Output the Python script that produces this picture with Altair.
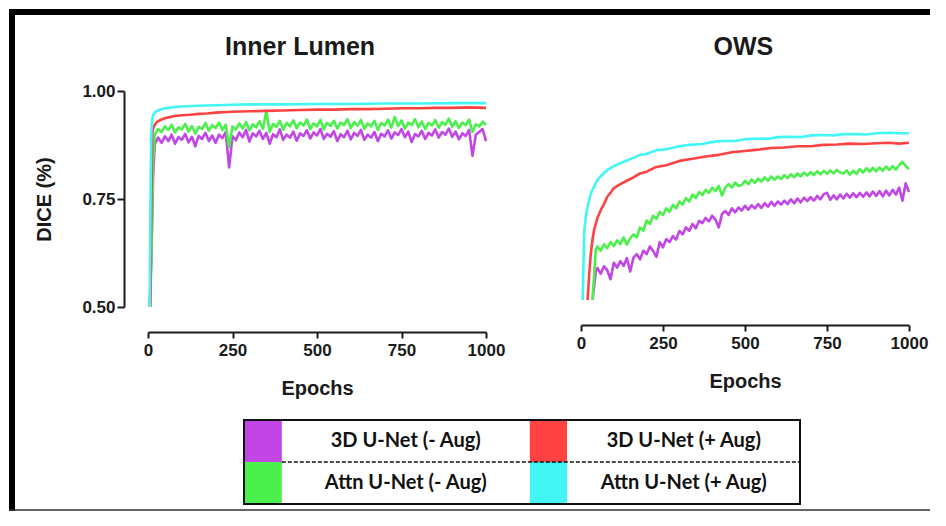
import altair as alt
import pandas as pd

# ---------------- data ----------------
S_3D_NO = "3D U-Net (- Aug)"
S_3D_AUG = "3D U-Net (+ Aug)"
S_ATTN_NO = "Attn U-Net (- Aug)"
S_ATTN_AUG = "Attn U-Net (+ Aug)"
SERIES = [S_3D_NO, S_3D_AUG, S_ATTN_NO, S_ATTN_AUG]
COLORS = ["#C246E6", "#FF4242", "#4CF04C", "#42F6F6"]
DRAW_ORDER = [S_3D_NO, S_ATTN_NO, S_3D_AUG, S_ATTN_AUG]

# ---- Inner Lumen panel ----
lumen_noisy_epochs = [5, 10, 15, 20] + list(range(30, 1001, 10))
lumen_3d_no = [0.50, 0.62, 0.80, 0.877,
    0.892, 0.880, 0.895, 0.884, 0.899, 0.878, 0.893, 0.887,
    0.901, 0.881, 0.894, 0.872, 0.896, 0.889, 0.903, 0.884, 0.897, 0.880,
    0.899, 0.891, 0.905, 0.823, 0.895, 0.886, 0.904, 0.893, 0.910, 0.883,
    0.902, 0.895, 0.908, 0.889, 0.903, 0.878, 0.900, 0.893, 0.911, 0.887,
    0.899, 0.892, 0.906, 0.885, 0.902, 0.896, 0.909, 0.890, 0.904, 0.897,
    0.912, 0.889, 0.901, 0.894, 0.907, 0.884, 0.900, 0.893, 0.908, 0.888,
    0.903, 0.896, 0.910, 0.887, 0.899, 0.892, 0.905, 0.884, 0.901, 0.895,
    0.909, 0.890, 0.904, 0.898, 0.912, 0.893, 0.906, 0.882, 0.900, 0.895,
    0.908, 0.889, 0.903, 0.897, 0.911, 0.892, 0.905, 0.899, 0.913, 0.894,
    0.906, 0.888, 0.902, 0.896, 0.910, 0.850, 0.899, 0.905, 0.912, 0.884]
lumen_attn_no = [0.50, 0.60, 0.83, 0.900,
    0.912, 0.905, 0.918, 0.910, 0.922, 0.904, 0.916, 0.911,
    0.924, 0.906, 0.919, 0.901, 0.917, 0.912, 0.926, 0.908, 0.921, 0.914,
    0.927, 0.910, 0.922, 0.870, 0.918, 0.911, 0.925, 0.913, 0.928, 0.909,
    0.923, 0.916, 0.930, 0.912, 0.954, 0.905, 0.924, 0.917, 0.931, 0.910,
    0.926, 0.918, 0.932, 0.914, 0.927, 0.920, 0.934, 0.912, 0.925, 0.918,
    0.933, 0.911, 0.926, 0.919, 0.931, 0.913, 0.927, 0.921, 0.935, 0.914,
    0.928, 0.920, 0.933, 0.912, 0.925, 0.918, 0.931, 0.910, 0.926, 0.920,
    0.934, 0.915, 0.940, 0.919, 0.932, 0.913, 0.927, 0.921, 0.935, 0.916,
    0.929, 0.912, 0.926, 0.920, 0.933, 0.915, 0.928, 0.922, 0.936, 0.917,
    0.930, 0.914, 0.927, 0.921, 0.934, 0.905, 0.923, 0.918, 0.929, 0.921]
lumen_3d_aug_epochs = [7, 10, 13, 16, 20, 25, 30, 40, 50, 60, 80, 100, 125, 150, 175, 200,
    250, 300, 350, 400, 450, 500, 550, 600, 650, 700, 750, 800, 850, 900, 950, 1000]
lumen_3d_aug = [0.50, 0.75, 0.905, 0.915, 0.922, 0.927, 0.930, 0.934, 0.937, 0.939, 0.942,
    0.944, 0.945, 0.947, 0.948, 0.950, 0.952, 0.953, 0.954, 0.955, 0.956, 0.957, 0.957,
    0.958, 0.958, 0.959, 0.960, 0.960, 0.961, 0.961, 0.962, 0.961]
lumen_attn_aug_epochs = [5, 8, 10, 12, 15, 20, 25, 30, 40, 50, 60, 80, 100, 150, 200, 250,
    300, 400, 500, 600, 700, 800, 900, 1000]
lumen_attn_aug = [0.50, 0.80, 0.905, 0.930, 0.944, 0.950, 0.953, 0.955, 0.958, 0.960, 0.961,
    0.963, 0.964, 0.966, 0.967, 0.968, 0.969, 0.969, 0.970, 0.970, 0.971, 0.971, 0.972, 0.972]

# ---- OWS panel ----
ows_noisy_epochs = [35, 45] + list(range(50, 1001, 10))
ows_3d_no = [0.500, 0.566,
    0.574, 0.561, 0.578, 0.569, 0.548, 0.586, 0.575, 0.590, 0.579, 0.597,
    0.566, 0.598, 0.606, 0.594, 0.614, 0.606, 0.624, 0.613, 0.600, 0.634,
    0.622, 0.641, 0.634, 0.648, 0.640, 0.660, 0.652, 0.668, 0.660, 0.676,
    0.666, 0.683, 0.678, 0.690, 0.682, 0.695, 0.686, 0.668, 0.699, 0.706,
    0.697, 0.712, 0.703, 0.714, 0.707, 0.718, 0.709, 0.719, 0.712, 0.722,
    0.713, 0.724, 0.716, 0.727, 0.718, 0.728, 0.721, 0.730, 0.722, 0.733,
    0.724, 0.735, 0.726, 0.737, 0.729, 0.738, 0.730, 0.741, 0.733, 0.745,
    0.748, 0.732, 0.742, 0.733, 0.744, 0.735, 0.746, 0.737, 0.747, 0.738,
    0.748, 0.739, 0.749, 0.740, 0.751, 0.741, 0.752, 0.740, 0.753, 0.742,
    0.755, 0.744, 0.760, 0.730, 0.770, 0.750]
ows_attn_no = [0.500, 0.616,
    0.624, 0.614, 0.629, 0.620, 0.634, 0.625, 0.638, 0.629, 0.645, 0.628,
    0.643, 0.652, 0.645, 0.668, 0.660, 0.684, 0.676, 0.695, 0.688, 0.704,
    0.697, 0.712, 0.704, 0.720, 0.712, 0.728, 0.721, 0.736, 0.728, 0.744,
    0.736, 0.750, 0.743, 0.755, 0.748, 0.760, 0.752, 0.764, 0.742, 0.760,
    0.768, 0.760, 0.772, 0.764, 0.766, 0.776, 0.768, 0.779, 0.771, 0.781,
    0.774, 0.784, 0.776, 0.786, 0.778, 0.786, 0.780, 0.789, 0.782, 0.791,
    0.784, 0.793, 0.786, 0.795, 0.788, 0.796, 0.789, 0.798, 0.791, 0.799,
    0.792, 0.800, 0.793, 0.801, 0.795, 0.793, 0.800, 0.790, 0.799, 0.792,
    0.803, 0.795, 0.805, 0.797, 0.806, 0.798, 0.807, 0.799, 0.809, 0.801,
    0.810, 0.802, 0.812, 0.820, 0.810, 0.803]
ows_3d_aug_epochs = [20, 25, 30, 35, 40, 50, 60, 70, 80, 90, 100, 120, 140, 160, 180, 200,
    230, 260, 300, 340, 380, 420, 460, 500, 540, 580, 620, 660, 700, 740, 780, 820, 860,
    900, 940, 970, 1000]
ows_3d_aug = [0.50, 0.56, 0.608, 0.640, 0.662, 0.690, 0.708, 0.722, 0.739, 0.748, 0.759,
    0.768, 0.776, 0.784, 0.793, 0.797, 0.808, 0.812, 0.822, 0.827, 0.832, 0.836, 0.842,
    0.845, 0.848, 0.852, 0.853, 0.856, 0.856, 0.859, 0.860, 0.862, 0.861, 0.863, 0.864,
    0.862, 0.864]
ows_attn_aug_epochs = [5, 10, 15, 20, 30, 40, 50, 65, 80, 100, 130, 160, 180, 200, 230, 260,
    300, 330, 370, 400, 435, 470, 500, 536, 570, 600, 638, 670, 700, 739, 770, 800, 840,
    870, 900, 941, 970, 1000]
ows_attn_aug = [0.50, 0.66, 0.695, 0.716, 0.747, 0.763, 0.778, 0.790, 0.801, 0.810, 0.820,
    0.829, 0.836, 0.838, 0.847, 0.849, 0.856, 0.859, 0.861, 0.866, 0.868, 0.868, 0.872,
    0.874, 0.873, 0.877, 0.878, 0.877, 0.881, 0.882, 0.881, 0.884, 0.884, 0.883, 0.886,
    0.887, 0.886, 0.886]

# legend layout: column / row of each series in the legend box
legend_col = [0, 1, 0, 1]
legend_row = [0, 0, 1, 1]


def frame(pairs):
    rows = []
    for name, ep, val in pairs:
        assert len(ep) == len(val), (name, len(ep), len(val))
        rows += [{"series": name, "epoch": e, "dice": v} for e, v in zip(ep, val)]
    return pd.DataFrame(rows)


lumen_df = frame([
    (S_3D_NO, lumen_noisy_epochs, lumen_3d_no),
    (S_ATTN_NO, lumen_noisy_epochs, lumen_attn_no),
    (S_3D_AUG, lumen_3d_aug_epochs, lumen_3d_aug),
    (S_ATTN_AUG, lumen_attn_aug_epochs, lumen_attn_aug),
])
ows_df = frame([
    (S_3D_NO, ows_noisy_epochs, ows_3d_no),
    (S_ATTN_NO, ows_noisy_epochs, ows_attn_no),
    (S_3D_AUG, ows_3d_aug_epochs, ows_3d_aug),
    (S_ATTN_AUG, ows_attn_aug_epochs, ows_attn_aug),
])

# ---------------- styling ----------------
FONT = "Liberation Sans"
INK = "#1a1a1a"
color_scale = alt.Scale(domain=SERIES, range=COLORS)


def x_axis(offset):
    return alt.Axis(orient="bottom", offset=offset, values=[0, 250, 500, 750, 1000],
                    format="d", title="Epochs", grid=False, domainWidth=2,
                    domainColor=INK, tickColor=INK, tickWidth=2, tickSize=6,
                    labelFont=FONT, labelFontWeight="bold", labelFontSize=17,
                    labelColor=INK, labelPadding=4, labelFlush=False,
                    labelOverlap=False, titleFont=FONT, titleFontWeight="bold",
                    titleFontSize=20, titleColor=INK, titlePadding=20)


def panel(df, x_range, y_range, x_offset, y_axis, title, title_epoch):
    xs = alt.Scale(domain=[0, 1000], range=x_range, nice=False, zero=False)
    ys = alt.Scale(domain=[0.5, 1.0], range=y_range, nice=False, zero=False)
    xa = x_axis(x_offset)
    layers = []
    for name in DRAW_ORDER:
        layers.append(
            alt.Chart(df).transform_filter(alt.datum.series == name)
            .mark_line(strokeWidth=2.6, strokeJoin="round")
            .encode(x=alt.X("epoch:Q", scale=xs, axis=xa),
                    y=alt.Y("dice:Q", scale=ys, axis=y_axis),
                    color=alt.Color("series:N", scale=color_scale, legend=None))
        )
    tdf = pd.DataFrame({"epoch": [title_epoch], "label": [title]})
    layers.append(
        alt.Chart(tdf).mark_text(font=FONT, fontWeight="bold", fontSize=25, color=INK,
                                 baseline="middle", align="center")
        .encode(x=alt.X("epoch:Q", scale=xs, axis=xa), y=alt.value(-37), text="label:N")
    )
    return alt.layer(*layers)


left_y_axis = alt.Axis(orient="left", offset=-3, values=[0.5, 0.75, 1.0], format=".2f",
                       title="DICE (%)", grid=False, domainWidth=2, domainColor=INK,
                       tickColor=INK, tickWidth=2, tickSize=7, labelFont=FONT,
                       labelFontWeight="bold", labelFontSize=17, labelColor=INK,
                       labelPadding=2, titleFont=FONT, titleFontWeight="bold",
                       titleFontSize=20, titleColor=INK, titlePadding=27)

left = panel(lumen_df, [27, 365], [223, 7], 25, left_y_axis, "Inner Lumen", 450)
right = panel(ows_df, [460, 788], [216, 0], 18, None, "OWS", 495)

# ---------------- legend box ----------------
leg = pd.DataFrame({"series": SERIES, "col": legend_col, "row": legend_row})
leg["sx0"] = leg["col"].map({0: 0.0, 1: 0.514})
leg["sx1"] = leg["col"].map({0: 0.068, 1: 0.581})
leg["sy0"] = leg["row"] * 0.5
leg["sy1"] = leg["row"] * 0.5 + 0.5
leg["tx"] = leg["col"].map({0: 0.291, 1: 0.791})
leg["ty"] = leg["row"] * 0.5 + 0.25

lx = alt.Scale(domain=[0, 1], range=[123, 679], nice=False, zero=False)
ly = alt.Scale(domain=[0, 1], range=[336, 420], nice=False, zero=False)

swatches = alt.Chart(leg).mark_rect().encode(
    x=alt.X("sx0:Q", scale=lx, axis=None), x2="sx1:Q",
    y=alt.Y("sy0:Q", scale=ly, axis=None), y2="sy1:Q",
    color=alt.Color("series:N", scale=color_scale, legend=None))
labels = alt.Chart(leg).mark_text(font="Lato", fontWeight="bold", fontSize=20,
                                  color="#111", align="center", baseline="middle").encode(
    x=alt.X("tx:Q", scale=lx, axis=None), y=alt.Y("ty:Q", scale=ly, axis=None),
    text="series:N")
box_df = pd.DataFrame({"bx0": [0.0], "bx1": [1.0], "by0": [0.0], "by1": [1.0],
                       "dx0": [0.068], "dy": [0.5]})
box = alt.Chart(box_df).mark_rect(fill=None, stroke="#111", strokeWidth=2).encode(
    x=alt.X("bx0:Q", scale=lx, axis=None), x2="bx1:Q",
    y=alt.Y("by0:Q", scale=ly, axis=None), y2="by1:Q")
dash = alt.Chart(box_df).mark_rule(stroke="#111", strokeWidth=1.5, strokeDash=[4, 2]).encode(
    x=alt.X("dx0:Q", scale=lx, axis=None), x2="bx1:Q",
    y=alt.Y("dy:Q", scale=ly, axis=None))
legend_box = alt.layer(swatches, labels, box, dash)

# ---------------- outer frame ----------------
W = 809
fdf = pd.DataFrame({"k": [0]})
frame_left = alt.Chart(fdf).mark_rule(color="black", strokeWidth=6).encode(
    x=alt.value(-109), y=alt.value(-75), y2=alt.value(427))
frame_top = alt.Chart(fdf).mark_rule(color="black", strokeWidth=6).encode(
    x=alt.value(-112), x2=alt.value(W), y=alt.value(-72))
frame_bottom = alt.Chart(fdf).mark_rule(color="#333", strokeWidth=1.5).encode(
    x=alt.value(-112), x2=alt.value(W), y=alt.value(426))

chart = alt.layer(left, right, legend_box, frame_left, frame_top, frame_bottom).resolve_scale(
    x="independent", y="independent"
).properties(
    width=W, height=223,
    autosize=alt.AutoSizeParams(type="none"),
    padding={"left": 113, "top": 76, "right": 0, "bottom": 205},
    background="white",
).configure_view(stroke=None)

chart.save("out.html", embed_options={"renderer": "svg", "actions": False})
